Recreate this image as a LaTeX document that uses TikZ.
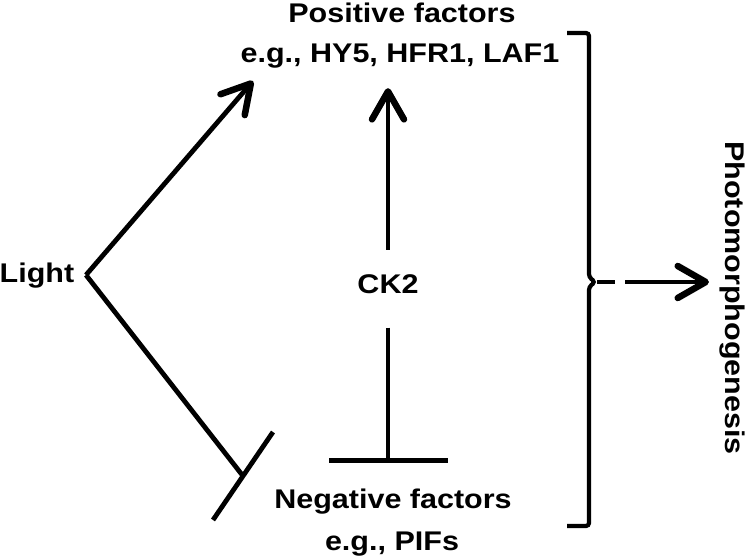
\documentclass[tikz,border=0pt]{standalone}
\usepackage{fontspec}
\usepackage{tikz}
\usetikzlibrary{arrows.meta}
\newfontfamily\lblfont[FakeStretch=1.13]{Liberation Sans}

\begin{document}
\begin{tikzpicture}[x=1pt,y=-1pt,line width=4.8pt,
    lbl/.style={font=\lblfont\bfseries\fontsize{27}{31}\selectfont,inner sep=0pt},
    act/.style={-{Straight Barb[round,length=28pt,width=32pt,line width=6.5pt]}},
    inh/.style={-{Bar[width=119pt]}}]
                \useasboundingbox (0,0) rectangle (750,557);

                % Labels
                \node[lbl,anchor=base] (light) at (37,282) {Light};
                \node[lbl,anchor=base] (pos1) at (402,22) {Positive factors};
                \node[lbl,anchor=base] (pos2) at (400,62) {e.g., HY5, HFR1, LAF1};
                \node[lbl,anchor=base] (ck2) at (388,293) {CK2};
                \node[lbl,anchor=base] (neg1) at (393,508) {Negative factors};
                \node[lbl,anchor=base] (neg2) at (392,550) {e.g., PIFs};
                \node[lbl,rotate=-90] (photo) at (732,298) {Photomorphogenesis};

                % Light branches
                \coordinate (fork) at (86,275);
                \coordinate (ptip) at (253,81);
                \coordinate (nbar) at (243,476);
                \draw[act] (fork) -- (ptip);
                \draw (fork) -- (nbar);
                \draw (nbar) ++(30,-44) -- ++(-60,88);

                % CK2
                \draw[act,shorten <=22pt,shorten >=18pt] (ck2.north) -- (ck2.north |- pos2.south);
                \draw[inh,shorten <=32pt,shorten >=23pt] (ck2.south) -- (ck2.south |- neg1.north);

                % Bracket
                \draw[line width=4.2pt,rounded corners=3pt] (567,33) -- (589,33) -- (589,277) -- (595,282) -- (589,287) -- (589,526) -- (567,526);
                \coordinate (brk) at (597,282);
                \draw[act,dash pattern=on 18pt off 10pt on 200pt off 0pt,shorten >=8pt] (brk) -- (brk -| photo.south);
            \end{tikzpicture}
\end{document}
